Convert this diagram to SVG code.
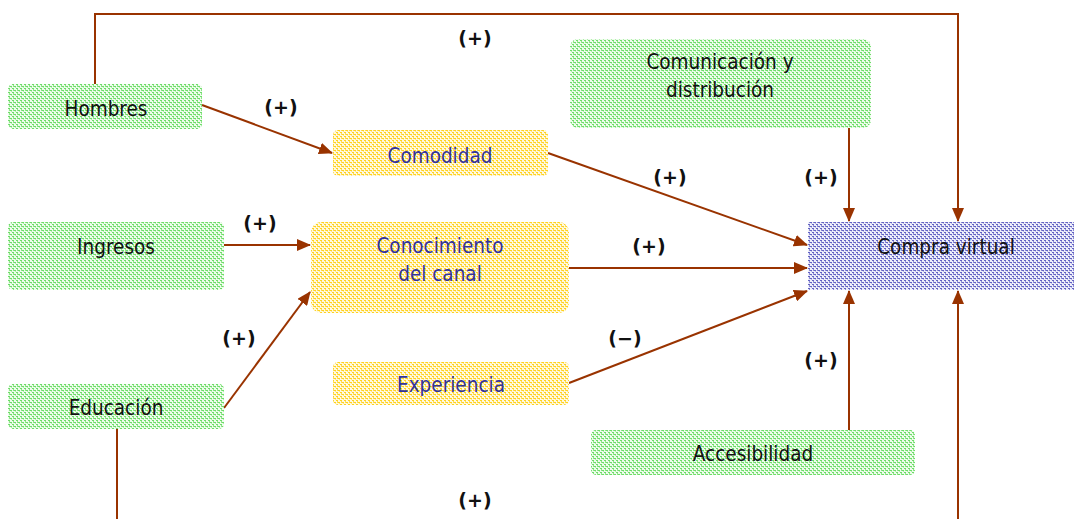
<svg xmlns="http://www.w3.org/2000/svg" width="1074" height="519" viewBox="0 0 1074 519">
<defs>
<pattern id="pg" width="4" height="4" patternUnits="userSpaceOnUse">
<rect width="4" height="4" fill="#eefcec"/>
<rect x="0" y="0" width="2" height="1" fill="#6ddc68"/>
<rect x="1" y="1" width="1" height="2" fill="#8ee688"/>
<rect x="2" y="2" width="2" height="1" fill="#6ddc68"/>
<rect x="3" y="3" width="1" height="1" fill="#b0f0ab"/>
</pattern>
<pattern id="py" width="4" height="4" patternUnits="userSpaceOnUse">
<rect width="4" height="4" fill="#fff9e0"/>
<rect x="0" y="0" width="2" height="1" fill="#ffd21f"/>
<rect x="1" y="1" width="1" height="2" fill="#ffdc55"/>
<rect x="2" y="2" width="2" height="1" fill="#ffd21f"/>
<rect x="3" y="3" width="1" height="1" fill="#ffe88a"/>
</pattern>
<pattern id="pb" width="4" height="4" patternUnits="userSpaceOnUse">
<rect width="4" height="4" fill="#eeeefa"/>
<rect x="0" y="0" width="2" height="1" fill="#6262c2"/>
<rect x="1" y="1" width="1" height="2" fill="#8c8cd4"/>
<rect x="2" y="2" width="2" height="1" fill="#6262c2"/>
<rect x="3" y="3" width="1" height="1" fill="#b8b8e6"/>
</pattern>
<marker id="ah" markerWidth="14" markerHeight="12" refX="13" refY="6" orient="auto" markerUnits="userSpaceOnUse">
<path d="M0,0 L14,6 L0,12 Z" fill="#993300"/>
</marker>
</defs>
<style>
.g{fill:url(#pg)}
.y{fill:url(#py)}
.b{fill:url(#pb)}
.t{font-family:"DejaVu Sans Condensed","DejaVu Sans",sans-serif;font-stretch:condensed;font-size:20.5px;text-anchor:middle;fill:#111}
.tb{fill:#333399}
.l{font-family:"DejaVu Sans",sans-serif;font-size:19px;font-weight:bold;text-anchor:middle;fill:#111}
.c{stroke:#993300;stroke-width:2;fill:none}
.a{marker-end:url(#ah)}
</style>
<g id="connectors">
<polyline class="c a" points="95,84 95,14 958,14 958,221"/>
<line class="c a" x1="202" y1="105" x2="332" y2="153"/>
<line class="c a" x1="548" y1="153" x2="807" y2="245"/>
<line class="c a" x1="849" y1="128" x2="849" y2="221"/>
<line class="c a" x1="224" y1="245" x2="310" y2="245"/>
<line class="c a" x1="224" y1="408" x2="310" y2="292"/>
<line class="c a" x1="569" y1="268" x2="807" y2="268"/>
<line class="c a" x1="569" y1="383" x2="807" y2="291"/>
<line class="c a" x1="849" y1="430" x2="849" y2="291"/>
<line class="c" x1="117" y1="429" x2="117" y2="520"/>
<line class="c a" x1="958" y1="520" x2="958" y2="291"/>
</g>
<g id="labels">
<text class="l" x="475" y="45">(+)</text>
<text class="l" x="281" y="114">(+)</text>
<text class="l" x="670" y="184">(+)</text>
<text class="l" x="821" y="184">(+)</text>
<text class="l" x="260" y="230">(+)</text>
<text class="l" x="649" y="253">(+)</text>
<text class="l" x="239" y="345">(+)</text>
<text class="l" x="625" y="345">(−)</text>
<text class="l" x="821" y="367">(+)</text>
<text class="l" x="475" y="507">(+)</text>
</g>
<g id="hombres"><rect class="g" x="8" y="84" width="194" height="45" rx="5"/><text class="t" x="106" y="116">Hombres</text></g>
<g id="comodidad"><rect class="y" x="333" y="130" width="215" height="46" rx="5"/><text class="t tb" x="440" y="163">Comodidad</text></g>
<g id="ingresos"><rect class="g" x="8" y="222" width="216" height="68" rx="5"/><text class="t" x="116" y="254">Ingresos</text></g>
<g id="conocimiento"><rect class="y" x="311" y="222" width="258" height="91" rx="10"/><text class="t tb" x="440" y="253">Conocimiento</text><text class="t tb" x="440" y="281">del canal</text></g>
<g id="experiencia"><rect class="y" x="333" y="362" width="236" height="43" rx="5"/><text class="t tb" x="451" y="392">Experiencia</text></g>
<g id="educacion"><rect class="g" x="8" y="384" width="216" height="45" rx="5"/><text class="t" x="116" y="415">Educación</text></g>
<g id="comunicacion"><rect class="g" x="570" y="39" width="301" height="89" rx="8"/><text class="t" x="720" y="69">Comunicación y</text><text class="t" x="720" y="97">distribución</text></g>
<g id="accesibilidad"><rect class="g" x="591" y="430" width="324" height="45" rx="5"/><text class="t" x="753" y="461">Accesibilidad</text></g>
<g id="compra"><rect class="b" x="808" y="222" width="266" height="68"/><text class="t" x="946" y="254">Compra virtual</text></g>
</svg>
